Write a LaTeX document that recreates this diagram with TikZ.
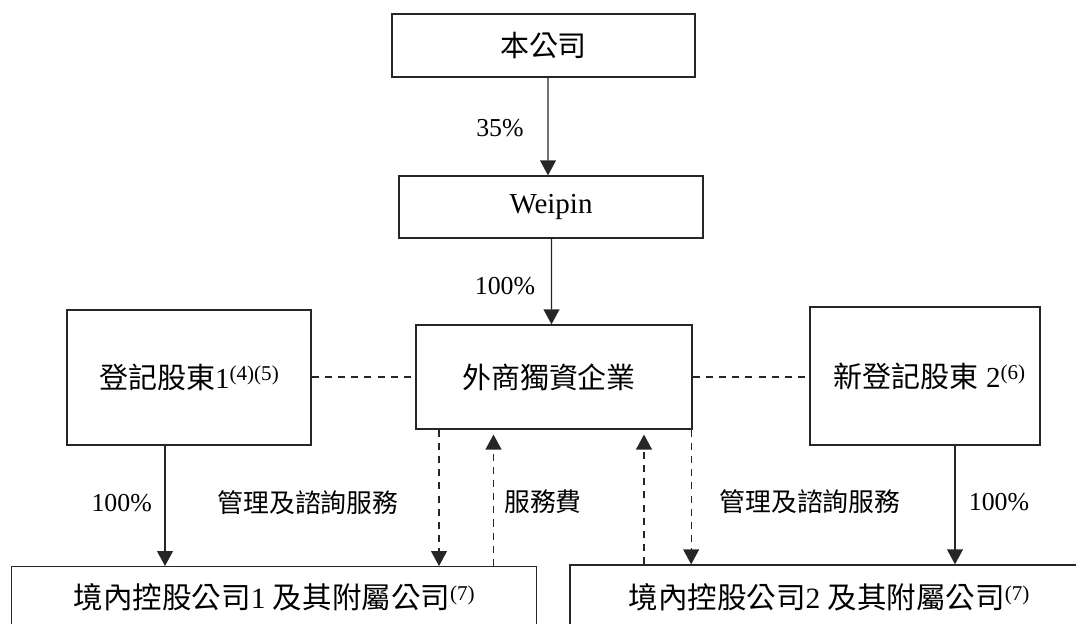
\documentclass[tikz,border=0pt]{standalone}
\usepackage{fontspec}
\setmainfont{Liberation Serif}
\newfontfamily\cjk{Noto Sans CJK TC}
\usepackage{tikz}
\usetikzlibrary{calc,arrows.meta}
\def\px{0.02cm}
\newcommand{\sups}[1]{\raisebox{0.6ex}{\fontsize{12}{12}\selectfont #1}}
\tikzset{
  box/.style={draw=black!85, line width=0.75pt, inner sep=0pt, font=\fontsize{16.5}{20}\selectfont},
  boxl/.style={box, font=\fontsize{16.8}{20}\selectfont},
  own/.style={draw=black!85, line width=0.75pt, -{Triangle[length=8.5pt,width=9pt]}},
  svc/.style={own, dash pattern=on 4pt off 3.5pt},
  link/.style={draw=black!85, line width=0.75pt, dash pattern=on 4pt off 3.5pt},
  lab/.style={text=black, font=\fontsize{14.7}{18}\selectfont},
}
\begin{document}
\begin{tikzpicture}[x=0.02cm, y=-0.02cm]
  \useasboundingbox (0,0) rectangle (1076,624);
  \clip (0,0) rectangle (1076,624);
  % boxes
  \node[box, minimum width=303*\px, minimum height=63*\px] (top) at (543.5,45.5) {\cjk 本公司};
  \node[box, minimum width=304*\px, minimum height=62*\px] (weipin) at (551,207) {Weipin};
  \node[box, minimum width=276*\px, minimum height=104*\px] (wfoe) at (554,377) {\cjk 外商獨資企業\hspace*{0.2cm}};
  \node[box, minimum width=244*\px, minimum height=135*\px] (reg1) at (189,377.5) {{\cjk 登記股東}1\sups{(4)(5)}};
  \node[box, minimum width=230*\px, minimum height=138*\px] (reg2) at (925,376) {\hspace*{0.18cm}{\cjk 新登記股東} 2\sups{(6)}};
  \node[boxl, minimum width=525*\px, minimum height=60.6*\px] (opco1) at (274.2,597) {{\cjk 境內控股公司}1 {\cjk 及其附屬公司}\sups{(7)}};
  \node[boxl, minimum width=518*\px, minimum height=64*\px] (opco2) at (829,597) {{\cjk 境內控股公司}2 {\cjk 及其附屬公司}\sups{(7)}};
  % feet of the connectors
  \coordinate (r1) at ($(reg1.south)+(-24,0)$);
  \coordinate (r2) at ($(reg2.south)+(30,0)$);
  \coordinate (s1) at ($(wfoe.south)+(-115,0)$);
  \coordinate (f1) at ($(wfoe.south)+(-60.5,0)$);
  \coordinate (f2) at ($(wfoe.south)+(90,0)$);
  \coordinate (s2) at ($(wfoe.south east)+(-1.5,0)$);
  % shareholding
  \draw[own] ($(top.south)+(4.5,0)$) -- ($(weipin.north)+(-3,0)$);
  \draw[own] ($(weipin.south)+(0.5,0)$) -- ($(wfoe.north)+(-2.5,0)$);
  \draw[own] (r1) -- (r1 |- opco1.north);
  \draw[own] (r2) -- (r2 |- opco2.north);
  % contractual links
  \draw[link] (reg1.east |- wfoe.west) -- (wfoe.west);
  \draw[link] (wfoe.east) -- (reg2.west |- wfoe.east);
  \draw[svc] (s1) -- (s1 |- opco1.north);
  \draw[svc, shorten >=2.8pt] (f1 |- opco1.north) -- (f1);
  \draw[svc, shorten >=2.8pt] (f2 |- opco2.north) -- (f2);
  \draw[svc] (s2) -- (s2 |- opco2.north);
  % labels
  \node[lab] (l35) at (500,128) {35\%};
  \node[lab] (l100a) at (505,286) {100\%};
  \node[lab] (l100b) at (121.7,503) {100\%};
  \node[lab] (l100c) at (999,502) {100\%};
  \node[lab] (mgt1) at (308,503) {\cjk 管理及諮詢服務};
  \node[lab] (fee) at (543,502) {\cjk 服務費};
  \node[lab] (mgt2) at (810,502) {\cjk 管理及諮詢服務};
\end{tikzpicture}
\end{document}
